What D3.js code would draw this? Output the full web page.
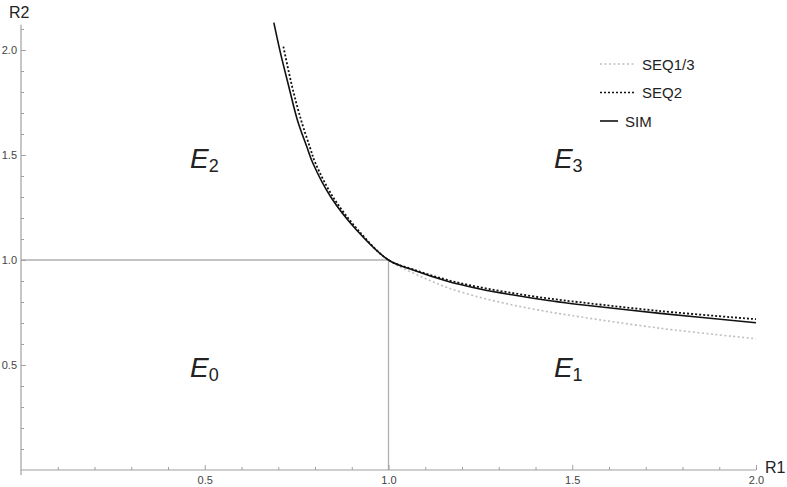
<!DOCTYPE html>
<html><head><meta charset="utf-8">
<script src="https://cdn.jsdelivr.net/npm/d3@7"></script>
<style>body{margin:0;background:#fff}svg{display:block}text{font-family:"Liberation Sans",Arial,sans-serif}</style>
</head><body><svg id="c" width="787" height="487"></svg>
<script>
const xTicks = [0.5, 1.0, 1.5, 2.0];
const yTicks = [0.5, 1.0, 1.5, 2.0];
const simR1 = [0.688, 0.706, 0.729, 0.752, 0.778, 0.794, 0.843, 0.913, 1.0, 1.067, 1.158, 1.249, 1.340, 1.430, 1.5, 1.739, 2.0];
const simR2 = [2.130, 1.986, 1.824, 1.667, 1.538, 1.462, 1.300, 1.143, 1.0, 0.952, 0.900, 0.862, 0.833, 0.808, 0.792, 0.746, 0.701];
const seq2R1 = [0.714, 0.738, 0.762, 0.786, 0.801, 0.849, 0.917, 1.0, 1.067, 1.158, 1.249, 1.340, 1.430, 1.5, 1.739, 2.0];
const seq2R2 = [2.016, 1.824, 1.667, 1.538, 1.462, 1.300, 1.143, 1.0, 0.955, 0.906, 0.870, 0.842, 0.818, 0.803, 0.757, 0.718];
const seq13R1 = [1.0, 1.031, 1.1, 1.158, 1.249, 1.340, 1.430, 1.5, 1.739, 2.0];
const seq13R2 = [1.0, 0.968, 0.912, 0.870, 0.822, 0.785, 0.755, 0.735, 0.675, 0.625];
const legendNames = ["SEQ1/3", "SEQ2", "SIM"];
const regionLabels = [{b:"E", s:"2", x:0.46, y:1.44}, {b:"E", s:"3", x:1.45, y:1.44}, {b:"E", s:"0", x:0.46, y:0.445}, {b:"E", s:"1", x:1.45, y:0.445}];

const svg = d3.select("#c");
const x = d3.scaleLinear().domain([0, 2]).range([21, 756]);
const y = d3.scaleLinear().domain([0, 2]).range([470, 50]);
const axisCol = "#a0a0a0";

// guide lines
svg.append("line").attr("x1", x(0)).attr("x2", x(1)).attr("y1", y(1)).attr("y2", y(1))
  .attr("stroke", "#b0b0b0").attr("stroke-width", 1.3);
svg.append("line").attr("x1", x(1)).attr("x2", x(1)).attr("y1", y(1)).attr("y2", y(0))
  .attr("stroke", "#b0b0b0").attr("stroke-width", 1.3);

// x axis
const minorX = d3.range(1, 21).map(i => i / 10);
const gx = svg.append("g").attr("transform", `translate(0,${y(0)})`)
  .call(d3.axisTop(x).tickValues(minorX).tickSize(3).tickFormat(""));
gx.select(".domain").attr("stroke", axisCol).attr("stroke-width", 1.2).attr("d", `M${x(0)},0H${x(2)}`);
gx.selectAll(".tick line").attr("stroke", axisCol).attr("y2", d => (Math.abs(d * 2 - Math.round(d * 2)) < 1e-6) ? -5 : -3);
const gxl = svg.append("g").attr("transform", `translate(0,${y(0)})`)
  .call(d3.axisBottom(x).tickValues(xTicks).tickSize(0).tickPadding(6).tickFormat(d3.format(".1f")));
gxl.select(".domain").remove();
gxl.selectAll("text").attr("font-size", 11).attr("fill", "#444").attr("font-family", "Liberation Sans, Arial, sans-serif");

// y axis
const minorY = d3.range(1, 22).map(i => i / 10);
const gy = svg.append("g").attr("transform", `translate(${x(0)},0)`)
  .call(d3.axisRight(y).tickValues(minorY).tickSize(3).tickFormat(""));
gy.select(".domain").attr("stroke", axisCol).attr("stroke-width", 1.2).attr("d", `M0,${y(2.12)}V${y(0) + 5}`);
gy.selectAll(".tick line").attr("stroke", axisCol).attr("x2", d => (Math.abs(d * 2 - Math.round(d * 2)) < 1e-6) ? 5 : 3);
const gyl = svg.append("g").attr("transform", `translate(${x(0)},0)`)
  .call(d3.axisLeft(y).tickValues(yTicks).tickSize(0).tickPadding(4).tickFormat(d3.format(".1f")));
gyl.select(".domain").remove();
gyl.selectAll("text").attr("font-size", 11).attr("fill", "#444").attr("font-family", "Liberation Sans, Arial, sans-serif");

// axis labels
svg.append("text").attr("x", 9).attr("y", 18).attr("font-size", 16).attr("fill", "#222").text("R2");
svg.append("text").attr("x", 765).attr("y", 473).attr("font-size", 16).attr("fill", "#222").text("R1");

// curves
const line = d3.line().x(d => x(d[0])).y(d => y(d[1])).curve(d3.curveCatmullRom.alpha(0.5));
const zip = (a, b) => a.map((v, i) => [v, b[i]]);
svg.append("path").attr("d", line(zip(seq13R1, seq13R2))).attr("fill", "none")
  .attr("stroke", "#bdbdbd").attr("stroke-width", 1.6).attr("stroke-dasharray", "2,2.5");
svg.append("path").attr("d", line(zip(seq2R1, seq2R2))).attr("fill", "none")
  .attr("stroke", "#111").attr("stroke-width", 1.8).attr("stroke-dasharray", "2,2");
svg.append("path").attr("d", line(zip(simR1, simR2))).attr("fill", "none")
  .attr("stroke", "#111").attr("stroke-width", 1.6);

// region labels
regionLabels.forEach(r => {
  const t = svg.append("text").attr("x", x(r.x)).attr("y", y(r.y)).attr("fill", "#222");
  t.append("tspan").attr("font-size", 28).attr("font-style", "italic").text(r.b);
  t.append("tspan").attr("font-size", 18).attr("dy", 4).text(r.s);
});

// legend
const legStyles = [
  {stroke: "#bdbdbd", dash: "2,2.5", w: 1.4, len: 35},
  {stroke: "#111", dash: "2,2", w: 1.6, len: 35},
  {stroke: "#111", dash: null, w: 1.6, len: 18}
];
legendNames.forEach((n, i) => {
  const ly = 64 + i * 28.5;
  const s = legStyles[i];
  svg.append("line").attr("x1", 600).attr("x2", 600 + s.len).attr("y1", ly).attr("y2", ly)
    .attr("stroke", s.stroke).attr("stroke-width", s.w).attr("stroke-dasharray", s.dash);
  svg.append("text").attr("x", 600 + s.len + 7).attr("y", ly + 5.5).attr("font-size", 15).attr("fill", "#222").text(n);
});
</script></body></html>
